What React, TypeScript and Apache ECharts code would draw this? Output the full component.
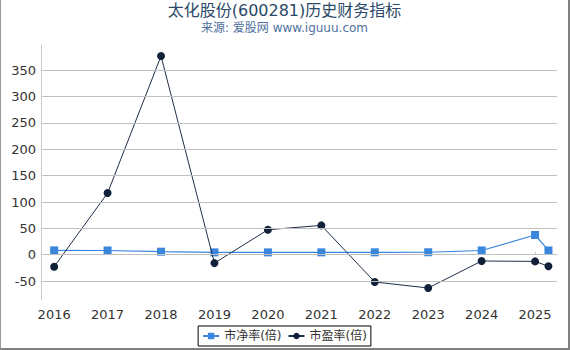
import React, { useEffect, useRef } from 'react';
import * as echarts from 'echarts';

const years = [2016, 2017, 2018, 2019, 2020, 2021, 2022, 2023, 2024, 2025, 2025.25];
const pbValues = [8.2, 8.0, 5.7, 4.4, 4.4, 4.4, 4.5, 4.6, 8.0, 37.4, 8.0];
const peValues = [-22.8, 117, 377, -16, 47.4, 55.6, -51.8, -63.2, -12, -12.7, -22];
const yGridValues = [-50, 0, 50, 100, 150, 200, 250, 300, 350];
const seriesNames = ['市净率(倍)', '市盈率(倍)'];
const titleText = '太化股份(600281)历史财务指标';
const subText = '来源: 爱股网 www.iguuu.com';

const FONT = '"DejaVu Sans", "Noto Sans CJK SC", sans-serif';

export default function App() {
  const ref = useRef<HTMLDivElement>(null);
  useEffect(() => {
    if (!ref.current) return;
    const chart = echarts.init(ref.current, null, { renderer: 'svg' });
    chart.setOption({
      animation: false,
      backgroundColor: '#fff',
      textStyle: { fontFamily: FONT },
      title: {
        text: titleText,
        subtext: subText,
        left: 'center',
        top: 0,
        padding: [2, 5, 0, 5],
        itemGap: 4,
        textStyle: { fontSize: 16, fontWeight: 'normal', color: '#2a4868', fontFamily: FONT },
        subtextStyle: { fontSize: 12, color: '#4f70a0', fontFamily: FONT },
      },
      legend: {
        data: seriesNames,
        bottom: 2,
        left: 'center',
        borderColor: '#000',
        borderWidth: 1,
        borderRadius: 0,
        padding: [4, 4, 4, 4],
        itemGap: 6,
        itemWidth: 16,
        itemHeight: 8,
        textStyle: { fontSize: 12, color: '#333', fontFamily: FONT },
      },
      grid: { left: 43, right: 11, top: 45, bottom: 48, containLabel: false },
      xAxis: {
        type: 'value',
        min: 2015.81,
        max: 2025.41,
        minInterval: 1,
        maxInterval: 1,
        offset: 4,
        splitLine: { show: false },
        axisLine: { show: true, lineStyle: { color: '#c8c8c8' } },
        axisTick: { show: true, inside: true, length: 3, lineStyle: { color: '#c8c8c8' } },
        axisLabel: {
          show: true,
          color: '#333',
          fontSize: 13,
          margin: 4,
          showMinLabel: false,
          showMaxLabel: false,
          formatter: (v: number) => String(v),
        },
      },
      yAxis: {
        type: 'value',
        min: -86,
        max: 398,
        minInterval: 50,
        maxInterval: 50,
        offset: 3,
        splitLine: { show: false },
        axisLine: { show: true, lineStyle: { color: '#c8c8c8' } },
        axisTick: { show: true, inside: true, length: 3, lineStyle: { color: '#c8c8c8' } },
        axisLabel: {
          color: '#333',
          fontSize: 13,
          margin: 5,
          showMinLabel: false,
          showMaxLabel: false,
        },
      },
      series: [
        {
          name: '__grid',
          type: 'line',
          data: [],
          z: 1,
          silent: true,
          markLine: {
            silent: true,
            symbol: ['none', 'none'],
            label: { show: false },
            lineStyle: { color: '#c0c0c0', width: 1, type: 'solid' },
            data: yGridValues.map((v) => ({ yAxis: v })),
          },
        },
        {
          name: seriesNames[0],
          type: 'line',
          z: 3,
          data: years.map((y, i) => [y, pbValues[i]]),
          symbol: 'rect',
          symbolSize: 8,
          color: '#3a86dc',
          lineStyle: { color: '#3a86dc', width: 1.2 },
          itemStyle: { color: '#3a86dc' },
        },
        {
          name: seriesNames[1],
          type: 'line',
          z: 4,
          data: years.map((y, i) => [y, peValues[i]]),
          symbol: 'circle',
          symbolSize: 8,
          color: '#12213a',
          lineStyle: { color: '#1f2e48', width: 1 },
          itemStyle: { color: '#12213a' },
        },
      ],
    });
    return () => chart.dispose();
  }, []);
  return (
    <div
      style={{
        position: 'absolute',
        left: 0,
        top: 0,
        width: 570,
        height: 350,
        boxSizing: 'border-box',
        borderLeft: '1px solid #999',
        borderRight: '2px solid #808080',
        borderBottom: '2px solid #808080',
        background: '#fff',
      }}
    >
      <div ref={ref} style={{ width: 567, height: 348 }} />
    </div>
  );
}
